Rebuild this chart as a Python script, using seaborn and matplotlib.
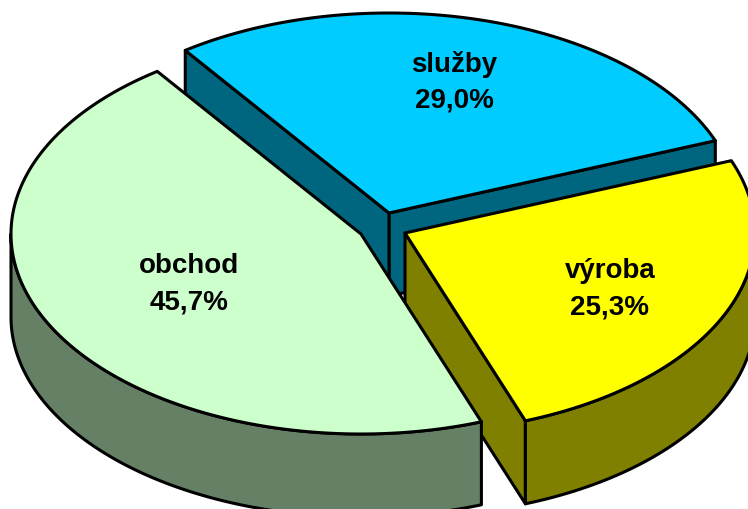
import numpy as np
import matplotlib
matplotlib.use('Agg')
import matplotlib.pyplot as plt
import seaborn as sns

# data
labels = ['obchod', 'výroba', 'služby']
values = [45.7, 25.3, 29.0]
value_labels = ['45,7%', '25,3%', '29,0%']

# style
top_colors = sns.color_palette(['#CCFFCC', '#FFFF00', '#00CCFF'])
side_colors = sns.color_palette(['#668066', '#808000', '#006680'])
centers = [(361, 235), (405, 234), (389, 214)]
label_pos = [(189, 266), (610, 271), (454, 64)]
rx, ry = 350, 200
depth = 83
start_angle = 125.6
lw = 2.2

sns.set_theme(style='white')
plt.rcParams['font.family'] = ['Liberation Sans', 'DejaVu Sans']


def arc(center, a0, a1, dy=0):
    t = np.radians(np.linspace(a0, a1, 200))
    return center[0] + rx * np.cos(t), center[1] - ry * np.sin(t) + dy


def draw_face(ax, x, y, color, z):
    ax.fill(x, y, facecolor=color, edgecolor='black', linewidth=lw, joinstyle='round', zorder=z)


def cut_face(ax, center, angle, color, z):
    # flat side of the slice from the middle out to the rim
    ex, ey = arc(center, angle, angle)
    ex, ey = ex[0], ey[0]
    draw_face(ax, [center[0], ex, ex, center[0]],
              [center[1], ey, ey + depth, center[1] + depth], color, z)


def rim_face(ax, center, a0, a1, color, z):
    # only the part of the rim that faces the viewer
    a0, a1 = max(a0, 180), min(a1, 360)
    if a1 <= a0:
        return
    x, y = arc(center, a0, a1)
    xb, yb = arc(center, a0, a1, depth)
    draw_face(ax, np.r_[x, xb[::-1]], np.r_[y, yb[::-1]], color, z)


fig = plt.figure(figsize=(7.48, 5.10), dpi=100)
ax = fig.add_axes([0, 0, 1, 1])

# angles follow the values
sweeps = np.array(values) / sum(values) * 360
starts = start_angle + np.r_[0, np.cumsum(sweeps)[:-1]]
ends = starts + sweeps

# back slice first, obchod goes over the side of vyroba
order = [2, 1, 0]
z = 1
for i in order:
    c = centers[i]
    if i == 2:
        cut_face(ax, c, starts[i] % 360, side_colors[i], z)
        cut_face(ax, c, ends[i] % 360, side_colors[i], z)
    if i == 1:
        cut_face(ax, c, starts[i], side_colors[i], z)
    rim_face(ax, c, starts[i], ends[i], side_colors[i], z)
    x, y = arc(c, starts[i], ends[i])
    draw_face(ax, np.r_[c[0], x], np.r_[c[1], y], top_colors[i], z + 1)
    ax.text(label_pos[i][0], label_pos[i][1], labels[i], ha='center', va='center',
            fontsize=20, fontweight='bold', color='black', zorder=10)
    ax.text(label_pos[i][0], label_pos[i][1] + 37, value_labels[i], ha='center', va='center',
            fontsize=20, fontweight='bold', color='black', zorder=10)
    z += 2

ax.set_xlim(0, 748)
ax.set_ylim(510, 0)
ax.set_xticks([])
ax.set_yticks([])
sns.despine(ax=ax, left=True, bottom=True)
fig.savefig('out.png', dpi=100, facecolor='white')
plt.close()
